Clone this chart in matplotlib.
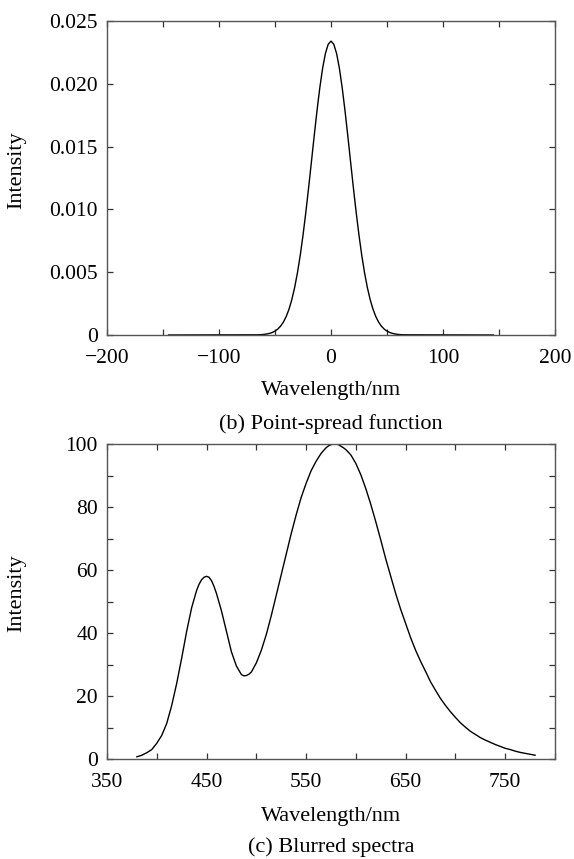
import matplotlib
matplotlib.use("Agg")
import matplotlib.pyplot as plt
from matplotlib.ticker import MultipleLocator, FixedLocator, FuncFormatter

plt.rcParams['font.family'] = ['Liberation Serif', 'DejaVu Serif']
plt.rcParams['axes.unicode_minus'] = True

# ---- (b) Point-spread function ----
psf_x = [-145, -65, -62.5, -60, -57.5, -55, -52.5, -50, -47.5, -45, -42.5, -40, -37.5,
         -35, -32.5, -30, -27.5, -25, -22.5, -20, -17.5, -15, -12.5, -10, -7.5, -5, -2.5,
         0, 2.5, 5, 7.5, 10, 12.5, 15, 17.5, 20, 22.5, 25, 27.5, 30, 32.5, 35, 37.5,
         40, 42.5, 45, 47.5, 50, 52.5, 55, 57.5, 60, 62.5, 65, 145]
psf_y = [0.0, 0.000016, 0.000027, 0.000046, 0.000077, 0.000125, 0.000199, 0.00031,
         0.000472, 0.000704, 0.001028, 0.001469, 0.002054, 0.002811, 0.003764, 0.004932,
         0.006324, 0.007936, 0.009746, 0.011713, 0.013776, 0.015855, 0.017857, 0.019682,
         0.02123, 0.02241, 0.023148, 0.0234,
         0.023148, 0.02241, 0.02123, 0.019682, 0.017857, 0.015855, 0.013776, 0.011713,
         0.009746, 0.007936, 0.006324, 0.004932, 0.003764, 0.002811, 0.002054, 0.001469,
         0.001028, 0.000704, 0.000472, 0.00031, 0.000199, 0.000125, 0.000077, 0.000046,
         0.000027, 0.000016, 0.0]
psf_xticks = [-200, -100, 0, 100, 200]
psf_yticks = [0, 0.005, 0.010, 0.015, 0.020, 0.025]
psf_yticklabels = ['0', '0.005', '0.010', '0.015', '0.020', '0.025']

# ---- (c) Blurred spectra ----
spec_x = [380, 385, 390, 395, 400, 405, 410, 415, 420, 425, 430, 435, 440, 442.5, 445,
          447.5, 450, 452.5, 455, 457.5, 460, 465, 470, 475, 480, 485, 487.5, 490, 492.5,
          495, 500, 505, 510, 515, 520, 525, 530, 535, 540, 545, 550, 555, 560, 565,
          570, 572.5, 575, 577.5, 580, 582.5, 585, 587.5, 590, 595, 600, 605, 610, 615,
          620, 625, 630, 635, 640, 645, 650, 655, 660, 665, 670, 675, 680, 685, 690,
          695, 700, 705, 710, 715, 720, 725, 730, 735, 740, 745, 750, 755, 760, 765,
          770, 775, 780]
spec_y = [0.7, 1.2, 2.0, 3.0, 5.0, 7.5, 11.3, 17, 24, 32, 40.5, 48, 53.5, 55.5, 56.9,
          57.7, 58, 57.7, 56.6, 54.8, 52.5, 47, 40.5, 34, 29.5, 26.8, 26.4, 26.5, 26.9,
          27.6, 30.5, 34.5, 39.5, 45.5, 52, 58.5, 65, 71.5, 77.5, 83, 87.5, 91.5, 94.5, 97,
          98.8, 99.4, 99.8, 100, 100, 99.8, 99.3, 98.8, 98.2, 96.5, 93.8, 90.2, 85.8, 80.8,
          75.3, 69.5, 63.5, 58, 52.5, 47.5, 43, 38.5, 34.5, 31, 27.8, 24.5, 21.8, 19.2, 17,
          15, 13.2, 11.5, 10.1, 8.8, 7.8, 6.8, 6, 5.3, 4.6, 4.0, 3.4, 3.0, 2.5, 2.1,
          1.8, 1.5, 1.2]
spec_xticks = [350, 450, 550, 650, 750]
spec_yticks = [0, 20, 40, 60, 80, 100]

FS_TICK = 15.5
FS_LAB = 16
spine_col = '#555555'

fig = plt.figure(figsize=(5.74, 8.59), dpi=100)
W, H = 574, 859


def make_axes(top_px, bottom_px):
    left, right = 107, 555
    return fig.add_axes([left / W, 1 - bottom_px / H, (right - left) / W, (bottom_px - top_px) / H])


def style(ax):
    for s in ax.spines.values():
        s.set_color(spine_col)
        s.set_linewidth(1.0)
    ax.tick_params(which='both', direction='in', top=True, right=True,
                   length=4, width=0.9, color='#333333', labelsize=FS_TICK)
    ax.tick_params(axis='x', which='both', pad=10)
    ax.tick_params(axis='y', which='both', pad=6.5)


def fmt_minus(v, pos):
    s = f"{int(round(v))}"
    return s.replace('-', '\u2212')


# top axes
ax1 = make_axes(21, 335)
ax1.plot(psf_x, psf_y, color='black', lw=1.0)
ax1.set_xlim(-200, 200)
ax1.set_ylim(0, 0.025)
ax1.xaxis.set_major_locator(FixedLocator(psf_xticks))
ax1.xaxis.set_minor_locator(MultipleLocator(50))
ax1.xaxis.set_major_formatter(FuncFormatter(fmt_minus))
ax1.set_yticks(psf_yticks)
ax1.set_yticklabels(psf_yticklabels)
style(ax1)
fig.text(331 / W, 1 - 391 / H, 'Wavelength/nm', ha='center', va='center', fontsize=FS_LAB)
fig.text(331 / W, 1 - 424 / H, '(b) Point-spread function', ha='center', va='center', fontsize=FS_LAB)
fig.text(17 / W, 1 - 170 / H, 'Intensity', ha='center', va='center', rotation=90, fontsize=FS_LAB)

# bottom axes
ax2 = make_axes(444, 759)
ax2.plot(spec_x, spec_y, color='black', lw=1.0)
ax2.set_xlim(350, 800)
ax2.set_ylim(0, 100)
ax2.xaxis.set_major_locator(FixedLocator(spec_xticks))
ax2.xaxis.set_minor_locator(MultipleLocator(50))
ax2.set_yticks(spec_yticks)
ax2.yaxis.set_minor_locator(MultipleLocator(10))
style(ax2)
fig.text(331 / W, 1 - 816 / H, 'Wavelength/nm', ha='center', va='center', fontsize=FS_LAB)
fig.text(331 / W, 1 - 847 / H, '(c) Blurred spectra', ha='center', va='center', fontsize=FS_LAB)
fig.text(17 / W, 1 - 593 / H, 'Intensity', ha='center', va='center', rotation=90, fontsize=FS_LAB)

fig.savefig('out.png', dpi=100, facecolor='white')
